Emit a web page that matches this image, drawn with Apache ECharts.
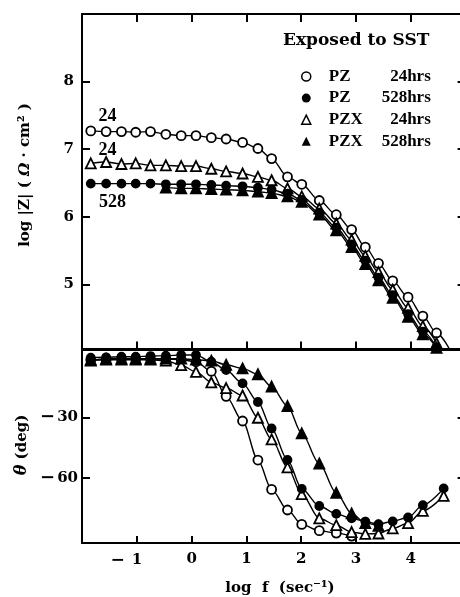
<!DOCTYPE html>
<html><head><meta charset="utf-8">
<script src="https://cdn.jsdelivr.net/npm/echarts@6/dist/echarts.min.js"></script>
<style>html,body{margin:0;padding:0;background:#fff}#c{width:460px;height:597px}</style>
</head><body><div id="c"></div>
<script>
// ---------- data ----------
const names = ['PZ 24hrs', 'PZ 528hrs', 'PZX 24hrs', 'PZX 528hrs'];
const xTicks = [-1, 0, 1, 2, 3, 4];
const zTicks = [5, 6, 7, 8];
const phaseTicks = [-60, -30];

// log f for the impedance curves (last entry only continues the PZ 24hrs line to the frame)
const logF_Z = [-1.84, -1.56, -1.28, -1.02, -0.75, -0.47, -0.19, 0.08, 0.36, 0.63, 0.93, 1.21, 1.46, 1.75, 2.01, 2.33, 2.64, 2.92, 3.17, 3.41, 3.67, 3.95, 4.22, 4.47, 4.72];
const PZ24_Z   = [7.27, 7.26, 7.26, 7.25, 7.26, 7.22, 7.20, 7.20, 7.17, 7.15, 7.10, 7.01, 6.86, 6.59, 6.48, 6.24, 6.03, 5.81, 5.55, 5.31, 5.05, 4.81, 4.53, 4.28, 4.02];
const PZ528_Z  = [6.49, 6.49, 6.49, 6.49, 6.49, 6.48, 6.48, 6.48, 6.47, 6.46, 6.45, 6.43, 6.40, 6.34, 6.25, 6.06, 5.84, 5.59, 5.35, 5.10, 4.84, 4.56, 4.30, 4.07, null];
const PZX24_Z  = [6.79, 6.81, 6.78, 6.79, 6.76, 6.76, 6.75, 6.75, 6.71, 6.67, 6.64, 6.59, 6.54, 6.42, 6.30, 6.12, 5.90, 5.66, 5.42, 5.18, 4.92, 4.65, 4.38, 4.13, null];
const PZX528_Z = [null, null, null, null, null, 6.43, 6.42, 6.42, 6.41, 6.40, 6.39, 6.37, 6.35, 6.30, 6.22, 6.03, 5.80, 5.55, 5.30, 5.06, 4.80, 4.52, 4.26, 4.06, null];

// log f for the phase-angle curves
const logF_P = [-1.84, -1.56, -1.28, -1.02, -0.75, -0.47, -0.19, 0.08, 0.36, 0.63, 0.93, 1.21, 1.46, 1.75, 2.01, 2.33, 2.64, 2.92, 3.17, 3.41, 3.67, 3.95, 4.22, 4.60];
const PZ24_P   = [-1.5, -1.5, -1.2, -1.2, -1.2, -1.2, -1.5, -2.5, -7.2, -19.6, -31.8, -51.1, -65.6, -75.8, -82.9, -86.0, -87.2, -88.7];
const PZ528_P  = [-0.5, -0.3, 0, 0, 0.3, 0.5, 0.8, 0.8, -2.5, -6.6, -13.2, -22.4, -35.5, -51.0, -65.3, -73.8, -77.7, -79.9, -81.5, -82.8, -81.4, -79.5, -73.4, -65.1];
const PZX24_P  = [-1.5, -1.5, -1.5, -1.5, -1.5, -2.0, -4.2, -7.5, -12.7, -15.5, -19.2, -30.2, -40.9, -54.7, -67.9, -79.9, -83.3, -86.7, -87.6, -87.4, -84.9, -82.3, -76.2, -68.8];
const PZX528_P = [-2.0, -1.0, -1.0, -1.0, -1.0, -1.0, -1.0, -1.5, -2.0, -4.0, -5.8, -8.7, -14.8, -24.4, -37.9, -52.8, -67.3, -77.5, -82.3, -83.6];

// ---------- build ----------
const SERIF = 'Liberation Serif';
const WIDE = 'DejaVu Serif';
function pairs(xs, ys) {
  const out = [];
  ys.forEach((y, i) => { if (y !== null && y !== undefined) out.push([xs[i], y]); });
  return out;
}
const styles = [
  { symbol: 'circle', size: 9, fill: '#fff' },
  { symbol: 'circle', size: 8, fill: '#000' },
  { symbol: 'triangle', size: 10, fill: '#fff' },
  { symbol: 'triangle', size: 10, fill: '#000' }
];
function mk(i, xs, ys, xIdx, yIdx) {
  const s = styles[i];
  return {
    type: 'line', name: names[i], xAxisIndex: xIdx, yAxisIndex: yIdx,
    data: pairs(xs, ys), smooth: 0.3, smoothMonotone: 'x',
    symbol: s.symbol, symbolSize: s.size, showAllSymbol: true,
    lineStyle: { color: '#000', width: 1.4 },
    itemStyle: { color: s.fill, borderColor: '#000', borderWidth: 1.8 },
    emphasis: { disabled: true }, animation: false, clip: true
  };
}
const axLine = { show: true, onZero: false, lineStyle: { color: '#000', width: 2 } };
const tick = (len) => ({ show: true, inside: true, length: len, lineStyle: { color: '#000', width: 2 } });
const lbl = { fontFamily: WIDE, fontSize: 15, fontWeight: 'bold', color: '#000' };

const option = {
  backgroundColor: '#fff',
  animation: false,
  grid: [
    { left: 82, top: 14, width: 383.6, height: 334.5, outerBoundsMode: 'none', containLabel: false },
    { left: 82, top: 350, width: 383.6, height: 193, outerBoundsMode: 'none', containLabel: false }
  ],
  xAxis: [
    { type: 'value', gridIndex: 0, position: 'bottom', min: -2, max: 5, interval: 1,
      axisLine: axLine, axisTick: tick(7), axisLabel: { show: false }, splitLine: { show: false } },
    { type: 'value', gridIndex: 0, position: 'top', min: -2, max: 5, interval: 1,
      axisLine: axLine, axisTick: tick(8), axisLabel: { show: false }, splitLine: { show: false } },
    { type: 'value', gridIndex: 1, position: 'bottom', min: -2, max: 5, interval: 1,
      axisLine: axLine, axisTick: tick(7), splitLine: { show: false },
      axisLabel: Object.assign({}, lbl, { margin: 9, hideOverlap: false,
        formatter: v => {
          if (xTicks.indexOf(v) < 0) return '';
          return v < 0 ? '{m|−}{p|' + Math.abs(v) + '}' : '{n|' + v + '}';
        },
        rich: { m: Object.assign({}, lbl, { fontSize: 17, padding: [0, 7, 0, 0] }),
                p: Object.assign({}, lbl, { padding: [0, 21, 0, 0] }),
                n: Object.assign({}, lbl) } }) },
    { type: 'value', gridIndex: 1, position: 'top', min: -2, max: 5, interval: 1,
      axisLine: axLine, axisTick: { show: false }, axisLabel: { show: false }, splitLine: { show: false } }
  ],
  yAxis: [
    { type: 'value', gridIndex: 0, position: 'left', min: 4.05, max: 9,
      axisLine: axLine, axisTick: Object.assign(tick(8), { customValues: zTicks }),
      axisLabel: Object.assign({}, lbl, { margin: 8, customValues: zTicks }), splitLine: { show: false } },
    { type: 'value', gridIndex: 0, position: 'right', min: 4.05, max: 9,
      axisLine: axLine, axisTick: Object.assign(tick(8), { customValues: zTicks }),
      axisLabel: { show: false }, splitLine: { show: false } },
    { type: 'value', gridIndex: 1, position: 'left', min: -92.1, max: 3.3,
      axisLine: axLine, axisTick: Object.assign(tick(8), { customValues: phaseTicks }),
      axisLabel: Object.assign({}, lbl, { margin: 4, customValues: phaseTicks,
        formatter: v => '{m|−}' + Math.abs(v),
        rich: { m: Object.assign({}, lbl, { fontSize: 18, padding: [0, 2, 0, 0] }) } }),
      splitLine: { show: false } },
    { type: 'value', gridIndex: 1, position: 'right', min: -92.1, max: 3.3,
      axisLine: axLine, axisTick: Object.assign(tick(8), { customValues: phaseTicks }),
      axisLabel: { show: false }, splitLine: { show: false } }
  ],
  legend: {
    orient: 'vertical', left: 296, top: 63, itemGap: 4.6, itemWidth: 9, itemHeight: 9,
    selectedMode: false,
    data: [
      { name: names[0], icon: 'circle', itemStyle: { color: '#fff', borderColor: '#000', borderWidth: 1.5 } },
      { name: names[1], icon: 'circle', itemStyle: { color: '#000', borderColor: '#000', borderWidth: 0 } },
      { name: names[2], icon: 'triangle', itemStyle: { color: '#fff', borderColor: '#000', borderWidth: 1.5 } },
      { name: names[3], icon: 'triangle', itemStyle: { color: '#000', borderColor: '#000', borderWidth: 0 } }
    ],
    formatter: name => { const p = name.split(' '); return '{a|' + p[0] + '}{b|' + p[1] + '}'; },
    textStyle: { fontFamily: SERIF, fontSize: 17, fontWeight: 'bold', color: '#000', lineHeight: 16,
      rich: {
        a: { fontFamily: SERIF, fontSize: 17, fontWeight: 'bold', color: '#000', width: 50, padding: [0, 0, 0, 13] },
        b: { fontFamily: SERIF, fontSize: 17, fontWeight: 'bold', color: '#000', width: 52, align: 'right' }
      } }
  },
  graphic: [
    { type: 'text', left: 283, top: 32, style: { text: 'Exposed to SST', font: 'bold 17px "DejaVu Serif"', fill: '#000' } },
    { type: 'text', x: 107.5, y: 116.5, style: { text: '24', font: 'bold 18px "Liberation Serif"', fill: '#000', align: 'center', verticalAlign: 'middle' } },
    { type: 'text', x: 107.5, y: 150, style: { text: '24', font: 'bold 18px "Liberation Serif"', fill: '#000', align: 'center', verticalAlign: 'middle' } },
    { type: 'text', x: 112.5, y: 202.5, style: { text: '528', font: 'bold 18px "Liberation Serif"', fill: '#000', align: 'center', verticalAlign: 'middle' } },
    { type: 'text', x: 25, y: 175, rotation: Math.PI / 2,
      style: { text: '{t|log |Z| ( }{o|Ω}{t| · cm² )}', align: 'center', verticalAlign: 'middle',
        rich: { t: { font: 'bold 15px "DejaVu Serif"', fill: '#000' },
                o: { font: 'italic bold 15px "DejaVu Serif"', fill: '#000' } } } },
    { type: 'text', x: 22, y: 445, rotation: Math.PI / 2,
      style: { text: '{o|θ}{t| (deg)}', align: 'center', verticalAlign: 'middle',
        rich: { t: { font: 'bold 15px "DejaVu Serif"', fill: '#000' },
                o: { font: 'italic bold 16px "DejaVu Serif"', fill: '#000' } } } },
    { type: 'text', x: 280, y: 588, style: { text: 'log  f  (sec⁻¹)', font: 'bold 15px "DejaVu Serif"', fill: '#000', align: 'center', verticalAlign: 'middle' } }
  ],
  series: [
    mk(0, logF_Z, PZ24_Z, 0, 0), mk(2, logF_Z, PZX24_Z, 0, 0), mk(1, logF_Z, PZ528_Z, 0, 0), mk(3, logF_Z, PZX528_Z, 0, 0),
    mk(0, logF_P, PZ24_P, 2, 2), mk(2, logF_P, PZX24_P, 2, 2), mk(1, logF_P, PZ528_P, 2, 2), mk(3, logF_P, PZX528_P, 2, 2)
  ]
};
const chart = echarts.init(document.getElementById('c'), null, { renderer: 'canvas' });
chart.setOption(option);
</script></body></html>
